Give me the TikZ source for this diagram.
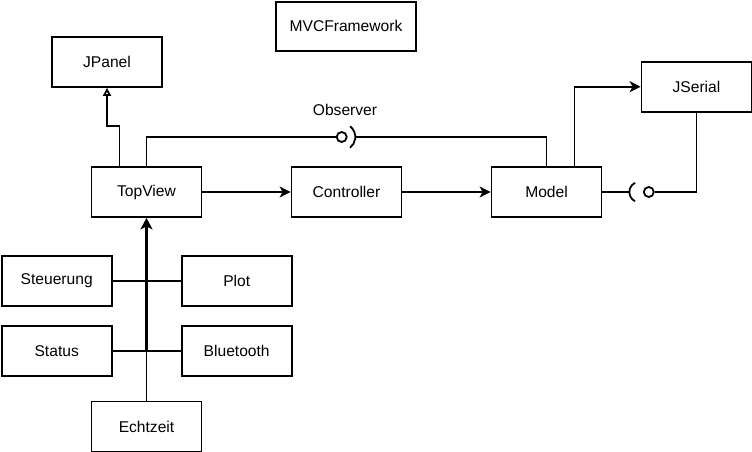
\documentclass[tikz,border=0pt]{standalone}
\usepackage{fontspec}
\setmainfont{Liberation Sans}
\usetikzlibrary{arrows.meta,calc}
\tikzset{
  box/.style={draw, line width=1.8pt, minimum width=110pt, minimum height=50pt, inner sep=0pt, font=\fontsize{15.6}{18}\selectfont},
  conn/.style={line width=1.8pt},
  arr/.style={conn, -{Stealth[length=11pt, width=11pt, inset=3pt]}},
  inh/.style={conn, -{Triangle[open, length=8pt, width=8pt]}},
  ball/.style={draw, circle, line width=1.8pt, minimum size=10pt, inner sep=0pt},
  lbl/.style={font=\fontsize{15.6}{18}\selectfont, inner sep=0pt}
}
\begin{document}
\begin{tikzpicture}[x=1pt, y=-1pt]
\useasboundingbox (0,0) rectangle (752,452);
\node[box, minimum width=140pt, minimum height=49pt] (mvc) at (346,26.3) {MVCFramework};
\node[box] (jpanel) at (107,62) {JPanel};
\node[box] (topview) at (146.5,192) {TopView};
\node[box] (controller) at (346.5,192) {Controller};
\node[box] (model) at (546.5,192) {Model};
\node[box] (jserial) at (696.5,86.7) {JSerial};
\node[box] (steuerung) at (56.7,281) {Steuerung};
\node[box] (plot) at (236.7,281) {Plot};
\node[box] (status) at (56.7,351.3) {Status};
\node[box] (bluetooth) at (236.7,351.3) {Bluetooth};
\node[box] (echtzeit) at (146.5,426.5) {Echtzeit};
\node[lbl] (obslbl) at (345,110) {Observer};

% inheritance to JPanel
\draw[inh] ([xshift=-27pt]topview.north) -- ++(0,-40) -| (jpanel.south);

% Observer interface
\node[ball] (obs) at (341.7,137) {};
\draw[conn] (topview.north) |- (obs.west);
\draw[conn] (obs.center) ++(52:13.6pt) arc[start angle=52, end angle=-52, radius=13.6pt];
\draw[conn] ([xshift=14.3pt]obs.center) -| (model.north);

% main flow
\draw[arr] (topview) -- (controller);
\draw[arr] (controller) -- (model);
\draw[arr] ([xshift=28pt]model.north) |- (jserial.west);

% JSerial interface
\node[ball] (ser) at (648.8,192) {};
\draw[conn] ([xshift=-9.2pt]ser.center) ++(116:10.3pt) arc[start angle=116, end angle=244, radius=10.3pt];
\draw[conn] (model.east) -- ([xshift=-19.5pt]ser.center);
\draw[conn] (ser.east) -| (jserial.south);

% bus from lower components
\draw[conn] (steuerung.east) -- (plot.west);
\draw[conn] (status.east) -- (bluetooth.west);
\draw[conn] (echtzeit.north) -- (echtzeit.north |- status.east);
\draw[line width=3pt, -{Stealth[length=11.5pt, width=12pt, inset=3pt]}] (echtzeit.north |- status.east) -- (topview.south);
\end{tikzpicture}
\end{document}
